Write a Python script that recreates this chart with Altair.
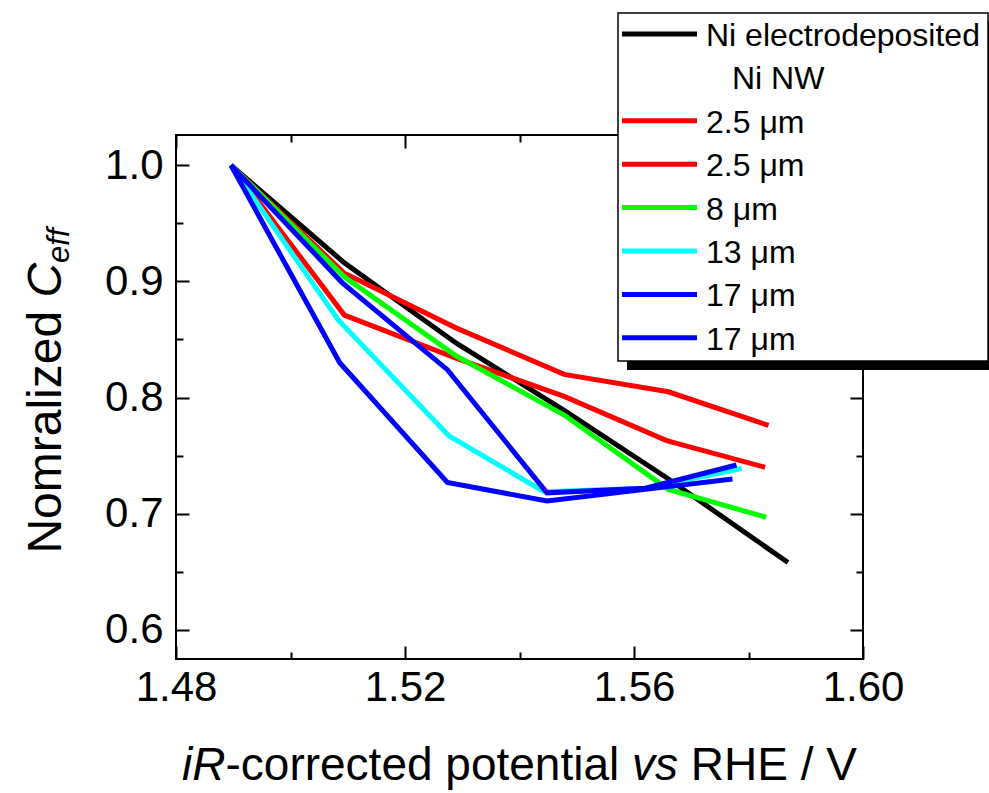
import altair as alt
import pandas as pd

# ---------------- data ----------------
legend_labels = ["Ni electrodeposited", "Ni NW", "2.5 μm", "2.5 μm", "8 μm", "13 μm", "17 μm", "17 μm"]
legend_colors = ["#000000", None, "#ff0000", "#ff0000", "#00ff00", "#00ffff", "#0000ff", "#0000ff"]

series_ids = ["black", "red_a", "red_b", "green", "cyan", "blue_a", "blue_b"]
series_colors = ["#000000", "#ff0000", "#ff0000", "#00ff00", "#00ffff", "#0000ff", "#0000ff"]

black_x = [1.4896, 1.5094, 1.5289, 1.5478, 1.5657, 1.5869]
black_y = [1.000, 0.916, 0.847, 0.789, 0.731, 0.658]
red_a_x = [1.4896, 1.5094, 1.5289, 1.5478, 1.5660, 1.5835]
red_a_y = [1.000, 0.907, 0.860, 0.820, 0.805, 0.776]
red_b_x = [1.4896, 1.5094, 1.5289, 1.5478, 1.5657, 1.5829]
red_b_y = [1.000, 0.871, 0.834, 0.801, 0.763, 0.740]
green_x = [1.4896, 1.5094, 1.5289, 1.5478, 1.5660, 1.5831]
green_y = [1.000, 0.904, 0.836, 0.785, 0.721, 0.697]
cyan_x = [1.4896, 1.5083, 1.5277, 1.5443, 1.5620, 1.5788]
cyan_y = [1.000, 0.867, 0.767, 0.719, 0.722, 0.739]
blue_a_x = [1.4896, 1.5086, 1.5274, 1.5448, 1.5620, 1.5772]
blue_a_y = [1.000, 0.830, 0.727, 0.711, 0.721, 0.730]
blue_b_x = [1.4896, 1.5090, 1.5274, 1.5448, 1.5620, 1.5779]
blue_b_y = [1.000, 0.899, 0.824, 0.718, 0.722, 0.742]

x_major = [1.48, 1.52, 1.56, 1.60]
x_minor = [1.50, 1.54, 1.58]
y_major = [0.6, 0.7, 0.8, 0.9, 1.0]
y_minor = [0.65, 0.75, 0.85, 0.95]

series_data = [
    ("black", black_x, black_y),
    ("red_a", red_a_x, red_a_y),
    ("red_b", red_b_x, red_b_y),
    ("green", green_x, green_y),
    ("cyan", cyan_x, cyan_y),
    ("blue_a", blue_a_x, blue_a_y),
    ("blue_b", blue_b_x, blue_b_y),
]
rows = []
for k, (sid, xs_, ys_) in enumerate(series_data):
    for i, (a, b) in enumerate(zip(xs_, ys_)):
        rows.append({"series": sid, "x": a, "y": b, "k": k, "i": i})
df = pd.DataFrame(rows)

# ---------------- layout ----------------
FONT = "Liberation Sans"
PLOT_W, PLOT_H = 687, 524
LEFT, TOP = 176, 135
TICK_FS = 42
XT_FS = 46
YT_FS = 48
LEG_FS = 32

xs = alt.Scale(domain=[1.48, 1.60], nice=False, zero=False)
ys = alt.Scale(domain=[0.575, 1.026], nice=False, zero=False)


def ax(orient, values, size, labels, fmt=None, pad=0):
    kw = dict(orient=orient, values=values, tickSize=size, offset=-size, labels=labels,
              domain=False, grid=False, title=None, ticks=True, tickColor="black", tickWidth=2)
    if labels:
        kw.update(labelFontSize=TICK_FS, labelFont=FONT, labelColor="black", labelPadding=pad,
                  format=fmt, labelOverlap=False, labelFlush=False)
    return alt.Axis(**kw)


base = alt.Chart(df)

lines = base.mark_line(strokeWidth=5, strokeJoin="miter", clip=False).encode(
    x=alt.X("x:Q", scale=xs, axis=ax("bottom", x_major, 13, True, ".2f", 8)),
    y=alt.Y("y:Q", scale=ys, axis=ax("left", y_major, 13, True, ".1f", 13)),
    color=alt.Color("series:N", scale=alt.Scale(domain=series_ids, range=series_colors), legend=None),
    detail="series:N",
    order="i:Q",
)

minor_bl = base.mark_line(opacity=0).encode(
    x=alt.X("x:Q", scale=xs, axis=ax("bottom", x_minor, 7, False)),
    y=alt.Y("y:Q", scale=ys, axis=ax("left", y_minor, 7, False)),
    detail="series:N",
)
major_tr = base.mark_line(opacity=0).encode(
    x=alt.X("x:Q", scale=xs, axis=ax("top", x_major, 13, False)),
    y=alt.Y("y:Q", scale=ys, axis=ax("right", y_major, 13, False)),
    detail="series:N",
)
minor_tr = base.mark_line(opacity=0).encode(
    x=alt.X("x:Q", scale=xs, axis=ax("top", x_minor, 7, False)),
    y=alt.Y("y:Q", scale=ys, axis=ax("right", y_minor, 7, False)),
    detail="series:N",
)

one = pd.DataFrame({"a": [0]})

# ---------------- legend (box with drop shadow) ----------------
legend_layers = [
    alt.Chart(one).mark_rect(color="black").encode(
        x=alt.value(627 - LEFT), x2=alt.value(1000 - LEFT),
        y=alt.value(21 - TOP), y2=alt.value(370 - TOP),
    ),
    alt.Chart(one).mark_rect(fill="white", stroke="black", strokeWidth=1.5).encode(
        x=alt.value(618 - LEFT), x2=alt.value(988 - LEFT),
        y=alt.value(13 - TOP), y2=alt.value(361 - TOP),
    ),
]
ROW0, ROW_H = 34 - TOP, 43.4
for r, (lab, col) in enumerate(zip(legend_labels, legend_colors)):
    yy = ROW0 + r * ROW_H
    if col is not None:
        legend_layers.append(alt.Chart(one).mark_rule(color=col, strokeWidth=5).encode(
            x=alt.value(622 - LEFT), x2=alt.value(697 - LEFT), y=alt.value(yy)))
        tx = 706 - LEFT
    else:
        tx = 732 - LEFT
    legend_layers.append(alt.Chart(one).mark_text(
        align="left", baseline="middle", font=FONT, fontSize=LEG_FS, color="black"
    ).encode(x=alt.value(tx), y=alt.value(yy + 2), text=alt.value(lab)))

# ---------------- titles with mixed styles ----------------
W = {' ': 278, 'N': 722, 'o': 556, 'm': 833, 'r': 333, 'a': 556, 'l': 222, 'i': 222, 'z': 500,
     'e': 556, 'd': 556, 'C': 722, 'f': 278, 'R': 722, '-': 333, 'c': 500, 't': 278, 'p': 556,
     'n': 556, 'v': 500, 's': 500, 'H': 722, 'E': 667, '/': 278, 'V': 667}


def tw(s, size):
    return sum(W[c] for c in s) / 1000.0 * size


xt_segments = [("iR", "italic", 0), ("-corrected potential", "normal", 0),
               ("vs", "italic", 1), ("RHE / V", "normal", 1)]
sp = tw(" ", XT_FS)
total = sum(tw(s, XT_FS) + g * sp for s, _, g in xt_segments)
cur = PLOT_W / 2 - total / 2
title_layers = []
for s, style, g in xt_segments:
    cur += g * sp
    title_layers.append(alt.Chart(one).mark_text(
        align="left", baseline="alphabetic", font=FONT, fontSize=XT_FS, fontStyle=style, color="black"
    ).encode(x=alt.value(cur), y=alt.value(PLOT_H + 121), text=alt.value(s)))
    cur += tw(s, XT_FS)

SUB_FS = 31
yt_segments = [("Nomralized", "normal", YT_FS, 0, 0), ("C", "italic", YT_FS, 1, 0),
               ("eff", "italic", SUB_FS, 0, 8)]
ysp = tw(" ", YT_FS)
ytotal = sum(tw(s, f) + g * ysp for s, _, f, g, _ in yt_segments)
ycur = PLOT_H / 2 + ytotal / 2 - 6
for s, style, f, g, shift in yt_segments:
    ycur -= g * ysp
    title_layers.append(alt.Chart(one).mark_text(
        align="left", baseline="alphabetic", font=FONT, fontSize=f, fontStyle=style,
        color="black", angle=270
    ).encode(x=alt.value(-115 + shift), y=alt.value(ycur), text=alt.value(s)))
    ycur -= tw(s, f)

chart = alt.layer(minor_bl, major_tr, minor_tr, lines, *legend_layers, *title_layers).resolve_axis(
    x="independent", y="independent"
).properties(
    width=PLOT_W, height=PLOT_H,
    padding={"left": LEFT, "top": TOP, "right": 989 - LEFT - PLOT_W, "bottom": 793 - TOP - PLOT_H},
    autosize=alt.AutoSizeParams(type="none"),
    background="white",
).configure_view(stroke="black", strokeWidth=2)

chart.save("out.html", embed_options={"renderer": "svg", "actions": False})
